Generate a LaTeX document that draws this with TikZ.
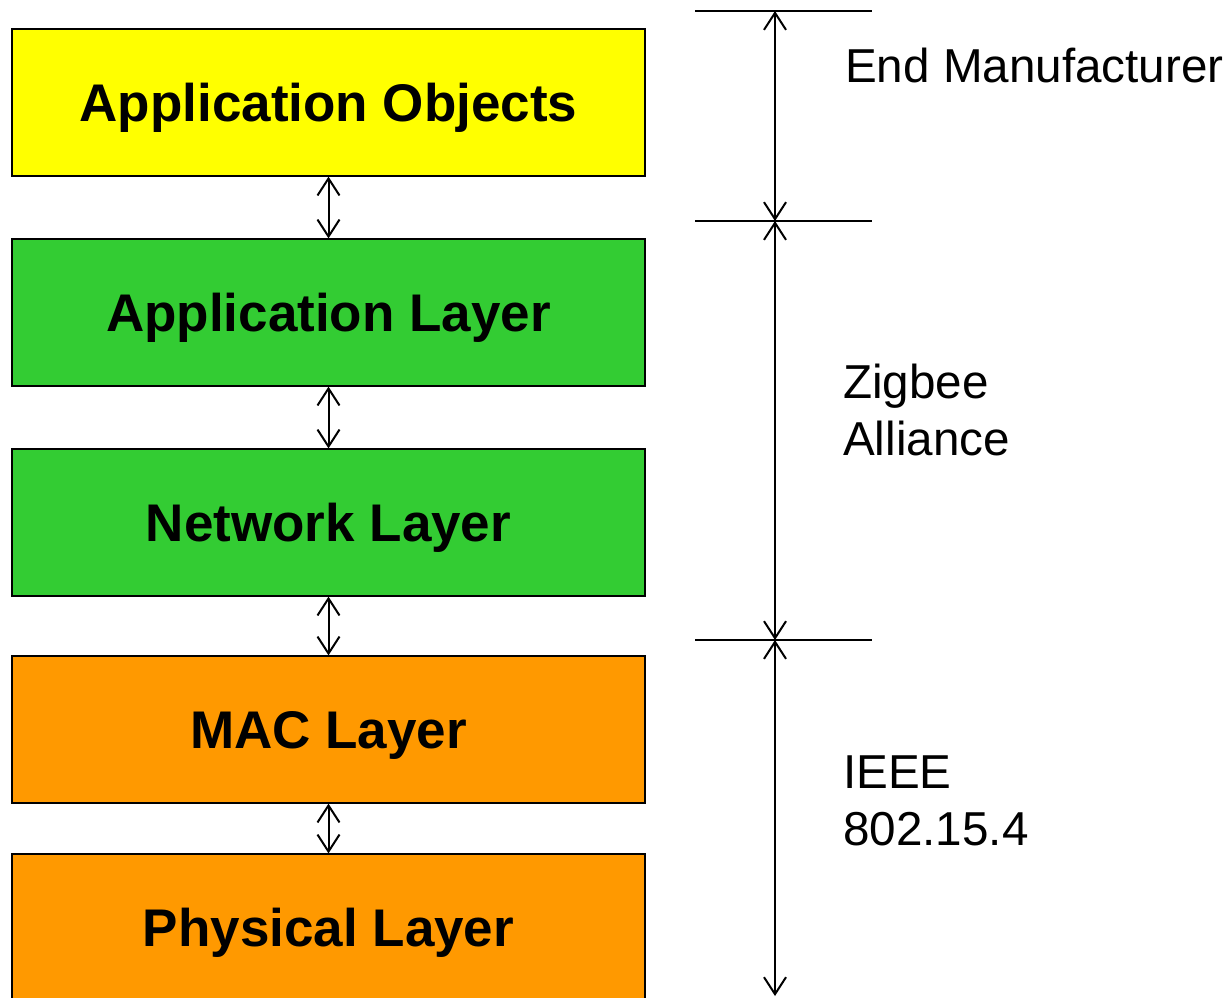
\documentclass[tikz,border=0pt]{standalone}
\usepackage{fontspec}
\setmainfont{Liberation Sans}
\usetikzlibrary{arrows.meta}
\definecolor{objyellow}{HTML}{FFFF00}
\definecolor{zbgreen}{HTML}{33CC33}
\definecolor{ieeeorange}{HTML}{FF9900}
\tikzset{
  layer/.style={draw,line width=1.2pt,minimum width=633pt,minimum height=147pt,
    inner sep=0pt,text depth=0pt,font=\fontsize{53}{64}\selectfont\bfseries},
  side/.style={font=\fontsize{47.6}{57}\selectfont,anchor=base west,align=left,inner sep=0pt},
  link/.style={<->,line width=2pt},
  tick/.style={line width=1.8pt}
}
\begin{document}
\begin{tikzpicture}[x=1pt,y=-1pt,>={Straight Barb[length=17pt,width=22pt,line width=2pt]}]
	\useasboundingbox (0,0) rectangle (1228,997);
	\clip (0,0) rectangle (1228,997);
	% layers
	\node[layer,fill=objyellow] (obj) at (328.5,102.5) {Application Objects};
	\node[layer,fill=zbgreen] (apl) at (328.5,312.5) {Application Layer};
	\node[layer,fill=zbgreen] (nwk) at (328.5,522.5) {Network Layer};
	\node[layer,fill=ieeeorange] (mac) at (328.5,729.5) {MAC Layer};
	\node[layer,fill=ieeeorange] (phy) at (328.5,927.5) {Physical Layer};
	\draw[link] (obj) -- (apl);
	\draw[link] (apl) -- (nwk);
	\draw[link] (nwk) -- (mac);
	\draw[link] (mac) -- (phy);
	% scope brackets
	\coordinate (a0) at (775,11);
	\coordinate (a1) at (775,221);
	\coordinate (a2) at (775,640);
	\coordinate (a3) at (775,996);
	\foreach \p in {a0,a1,a2}
		\draw[tick] ([xshift=-80pt]\p) -- ([xshift=97pt]\p);
	\draw[link] (a0) -- (a1);
	\draw[link] (a1) -- (a2);
	\draw[link] (a2) -- (a3);
	\node[side] (endm) at (845,82) {End Manufacturer};
	\node[side] (zba) at (843,455) {Zigbee\\Alliance};
	\node[side] (ieee) at (843,845) {IEEE\\802.15.4};
\end{tikzpicture}
\end{document}
